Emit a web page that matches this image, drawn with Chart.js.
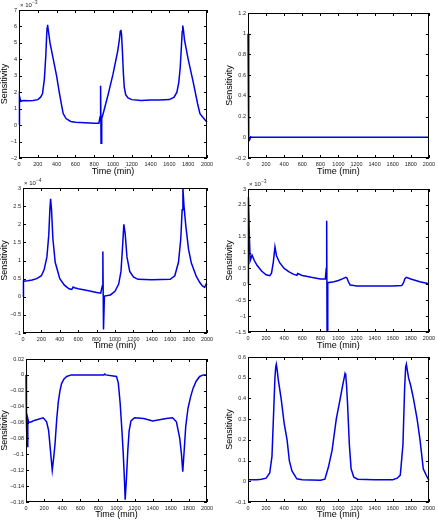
<!DOCTYPE html>
<html>
<head>
<meta charset="utf-8">
<script src="https://cdn.jsdelivr.net/npm/chart.js@4.4.1/dist/chart.umd.min.js"></script>
<style>
  body { margin: 0; background: #fff; }
  #wrap { position: relative; width: 438px; height: 524px; }
  #wrap canvas { position: absolute; left: 0; top: 0; }
</style>
</head>
<body>
<div id="wrap">
  <canvas id="c1" width="438" height="524"></canvas>
  <canvas id="c2" width="438" height="524"></canvas>
  <canvas id="c3" width="438" height="524"></canvas>
  <canvas id="c4" width="438" height="524"></canvas>
  <canvas id="c5" width="438" height="524"></canvas>
  <canvas id="c6" width="438" height="524"></canvas>
</div>
<script>
// time axis ticks (min)
var timeTicks = [0, 200, 400, 600, 800, 1000, 1200, 1400, 1600, 1800, 2000];

// panel 1 (values x 10^-3)
var t1 = [0, 5, 20, 50, 100, 150, 200, 230, 250, 270, 285, 293, 299, 304, 311, 330, 365, 400, 428, 450, 470, 500, 550, 600, 700, 800, 850, 862, 868, 873, 880, 900, 950, 1000, 1050, 1068, 1077, 1084, 1091, 1100, 1110, 1120, 1135, 1160, 1200, 1300, 1400, 1500, 1600, 1650, 1680, 1700, 1715, 1728, 1736, 1742, 1749, 1760, 1800, 1850, 1900, 1925, 1960, 2000];
var s1 = [0.0, 1.75, 1.45, 1.5, 1.48, 1.5, 1.55, 1.7, 1.9, 2.8, 4.2, 5.3, 5.9, 6.1, 5.8, 5.0, 4.0, 3.0, 2.0, 1.3, 0.7, 0.4, 0.22, 0.18, 0.15, 0.12, 0.12, 0.5, 2.4, -1.1, 0.4, 0.8, 1.9, 3.1, 4.5, 5.2, 5.7, 5.8, 5.5, 4.5, 3.2, 2.3, 1.85, 1.65, 1.55, 1.5, 1.52, 1.52, 1.55, 1.7, 2.0, 2.6, 3.5, 4.8, 5.7, 6.05, 5.8, 5.2, 4.0, 2.7, 1.3, 0.7, 0.45, 0.18];

// panel 2
var t2 = [0, 8, 15, 30, 40, 2000];
var s2 = [1.0, -0.03, -0.03, 0.005, 0, 0];

// panel 3 (values x 10^-4)
var t3 = [0, 5, 50, 100, 150, 200, 230, 260, 280, 292, 300, 310, 325, 350, 400, 450, 500, 530, 545, 560, 600, 700, 800, 845, 862, 868, 875, 885, 950, 1000, 1040, 1065, 1085, 1096, 1110, 1130, 1160, 1200, 1250, 1400, 1600, 1650, 1690, 1715, 1730, 1738, 1750, 1770, 1800, 1830, 1884, 1920, 1950, 1975, 1990, 2000];
var s3 = [0.0, 0.43, 0.44, 0.46, 0.5, 0.58, 0.75, 1.1, 1.7, 2.4, 2.7, 2.4, 1.6, 0.95, 0.5, 0.32, 0.22, 0.2, 0.27, 0.25, 0.22, 0.17, 0.12, 0.1, 0.3, 1.25, -0.9, 0.02, 0.05, 0.15, 0.35, 0.7, 1.5, 2.0, 1.75, 1.1, 0.7, 0.55, 0.48, 0.47, 0.48, 0.58, 0.95, 1.6, 2.4, 3.0, 2.5, 1.95, 1.3, 0.93, 0.56, 0.4, 0.3, 0.26, 0.35, 0.32];

// panel 4 (values x 10^-3)
var t4 = [0, 5, 15, 25, 45, 70, 100, 150, 200, 240, 260, 280, 298, 315, 350, 400, 450, 500, 540, 550, 600, 700, 800, 855, 865, 870, 874, 882, 950, 1000, 1050, 1080, 1095, 1110, 1130, 1170, 1200, 1400, 1600, 1700, 1720, 1735, 1750, 1800, 1900, 2000];
var s4 = [0.0, 2.75, 1.5, 0.75, 0.92, 0.75, 0.6, 0.42, 0.3, 0.27, 0.35, 0.7, 1.18, 0.9, 0.68, 0.5, 0.4, 0.32, 0.28, 0.34, 0.28, 0.22, 0.17, 0.17, 0.5, 2.0, -1.45, 0.05, 0.08, 0.12, 0.18, 0.22, 0.2, 0.08, -0.02, -0.04, -0.05, -0.05, -0.05, -0.04, 0.05, 0.18, 0.22, 0.17, 0.08, 0.02];

// panel 5
var t5 = [0, 5, 12, 20, 30, 60, 100, 190, 228, 250, 270, 290, 305, 320, 340, 357, 375, 393, 420, 450, 500, 860, 870, 880, 1000, 1020, 1040, 1060, 1075, 1087, 1096, 1110, 1125, 1140, 1160, 1200, 1300, 1400, 1550, 1620, 1662, 1699, 1718, 1732, 1748, 1765, 1790, 1820, 1846, 1880, 1919, 1960, 2000];
var s5 = [0.0, -0.06, -0.09, -0.055, -0.06, -0.059, -0.057, -0.054, -0.059, -0.07, -0.095, -0.12, -0.105, -0.088, -0.055, -0.034, -0.02, -0.011, -0.005, -0.002, 0.0, 0.0, 0.001, 0.0, -0.002, -0.01, -0.035, -0.07, -0.1, -0.13, -0.157, -0.13, -0.095, -0.07, -0.058, -0.054, -0.055, -0.058, -0.055, -0.054, -0.059, -0.08, -0.1, -0.122, -0.095, -0.065, -0.042, -0.027, -0.017, -0.008, -0.002, 0.0, 0.0];

// panel 6
var t6 = [0, 100, 150, 200, 240, 265, 285, 298, 306, 313, 322, 335, 366, 400, 432, 457, 486, 540, 600, 800, 850, 870, 890, 930, 976, 1020, 1050, 1064, 1073, 1081, 1090, 1100, 1121, 1140, 1170, 1212, 1400, 1600, 1650, 1684, 1713, 1732, 1743, 1751, 1760, 1775, 1800, 1829, 1870, 1902, 1938, 1970, 2000];
var s6 = [0.008, 0.008, 0.01, 0.015, 0.04, 0.12, 0.35, 0.5, 0.55, 0.565, 0.54, 0.49, 0.4, 0.28, 0.2, 0.1, 0.05, 0.012, 0.008, 0.005, 0.01, 0.04, 0.07, 0.15, 0.3, 0.4, 0.47, 0.5, 0.52, 0.51, 0.46, 0.38, 0.175, 0.06, 0.02, 0.01, 0.008, 0.008, 0.015, 0.03, 0.175, 0.45, 0.55, 0.565, 0.54, 0.5, 0.46, 0.4, 0.3, 0.2, 0.06, 0.03, 0.005];

var FONT = "'Liberation Sans', Arial, Helvetica, sans-serif";

function fmt(v) {
    var s = String(parseFloat(Number(v).toFixed(3)));
    return s.replace('-', '\u2212');
}

// box round the plot, inward tick marks on all four sides, exponent label
var boxTicks = {
    id: 'boxTicks',
    afterDatasetsDraw: function(chart, args, opts) {
        var ctx = chart.ctx, a = chart.chartArea, sx = chart.scales.x, sy = chart.scales.y;
        ctx.save();
        ctx.strokeStyle = '#000';
        ctx.lineWidth = 1;
        ctx.beginPath();
        sx.ticks.forEach(function(t) {
            var px = Math.round(sx.getPixelForValue(t.value)) + 0.5;
            ctx.moveTo(px, a.bottom); ctx.lineTo(px, a.bottom - 3);
            ctx.moveTo(px, a.top); ctx.lineTo(px, a.top + 3);
        });
        sy.ticks.forEach(function(t) {
            var py = Math.round(sy.getPixelForValue(t.value)) + 0.5;
            ctx.moveTo(a.left, py); ctx.lineTo(a.left + 3, py);
            ctx.moveTo(a.right, py); ctx.lineTo(a.right - 3, py);
        });
        ctx.stroke();
        ctx.strokeRect(Math.round(a.left) + 0.5, Math.round(a.top) + 0.5, Math.round(a.width) - 1, Math.round(a.height) - 1);
        if (opts.expo) {
            ctx.fillStyle = '#222';
            ctx.textBaseline = 'alphabetic';
            ctx.font = '6px ' + FONT;
            var base = a.top - 3;
            ctx.fillText('\u00d7 10', a.left + 1, base);
            var w = ctx.measureText('\u00d7 10').width;
            ctx.font = '4.5px ' + FONT;
            ctx.fillText(opts.expo, a.left + 1 + w + 0.5, base - 3);
        }
        ctx.restore();
    }
};

function makeChart(id, times, values, yMin, yMax, yStep, box, expo) {
    var pts = times.map(function(x, i) { return { x: x, y: values[i] }; });
    var padLeft = box.titleX - 5.4;
    var yw = box.l - padLeft;
    var xBottom = box.titleY + 5.4;
    var xh = xBottom - box.b;
    return new Chart(document.getElementById(id), {
        type: 'line',
        data: {
            datasets: [{
                data: pts,
                borderColor: 'rgb(0, 0, 230)',
                borderWidth: 1.5,
                pointRadius: 0,
                tension: 0,
                fill: false,
                clip: 2
            }]
        },
        options: {
            responsive: false,
            animation: false,
            devicePixelRatio: 1,
            layout: { padding: { left: padLeft, top: box.t, right: 438 - box.r, bottom: 524 - xBottom } },
            plugins: {
                legend: { display: false },
                tooltip: { enabled: false },
                boxTicks: { expo: expo }
            },
            scales: {
                x: {
                    type: 'linear',
                    min: 0, max: 2000,
                    afterBuildTicks: function(s) { s.ticks = timeTicks.map(function(v) { return { value: v }; }); },
                    afterFit: function(s) { s.height = xh; },
                    grid: { display: false, drawTicks: false },
                    border: { display: false },
                    ticks: { font: { size: 5.5, family: FONT }, color: '#222', padding: 3, maxRotation: 0, autoSkip: false, callback: fmt },
                    title: { display: true, text: 'Time (min)', font: { size: 9, family: FONT }, color: '#000', padding: 0 }
                },
                y: {
                    min: yMin, max: yMax,
                    afterFit: function(s) { s.width = yw; },
                    grid: { display: false, drawTicks: false },
                    border: { display: false },
                    ticks: { stepSize: yStep, font: { size: 5.5, family: FONT }, color: '#222', padding: 2, autoSkip: false, callback: fmt },
                    title: { display: true, text: 'Sensitivity', font: { size: 9, family: FONT }, color: '#000', padding: 0 }
                }
            }
        },
        plugins: [boxTicks]
    });
}

makeChart('c1', t1, s1, -2, 7, 1, { l: 19, t: 10, r: 207, b: 158, titleX: 5, titleY: 171.5 }, '\u22123');
makeChart('c2', t2, s2, -0.2, 1.2, 0.2, { l: 248, t: 13, r: 431, b: 158, titleX: 230, titleY: 171.5 }, null);
makeChart('c3', t3, s3, -1, 3, 0.5, { l: 23, t: 188, r: 207, b: 333, titleX: 5, titleY: 346 }, '\u22124');
makeChart('c4', t4, s4, -1.5, 3, 0.5, { l: 248, t: 189, r: 431, b: 332, titleX: 230, titleY: 346 }, '\u22123');
makeChart('c5', t5, s5, -0.16, 0.02, 0.02, { l: 26, t: 359, r: 207, b: 502, titleX: 5, titleY: 515 }, null);
makeChart('c6', t6, s6, -0.1, 0.6, 0.1, { l: 248, t: 357, r: 431, b: 502, titleX: 230, titleY: 515 }, null);
</script>
</body>
</html>
